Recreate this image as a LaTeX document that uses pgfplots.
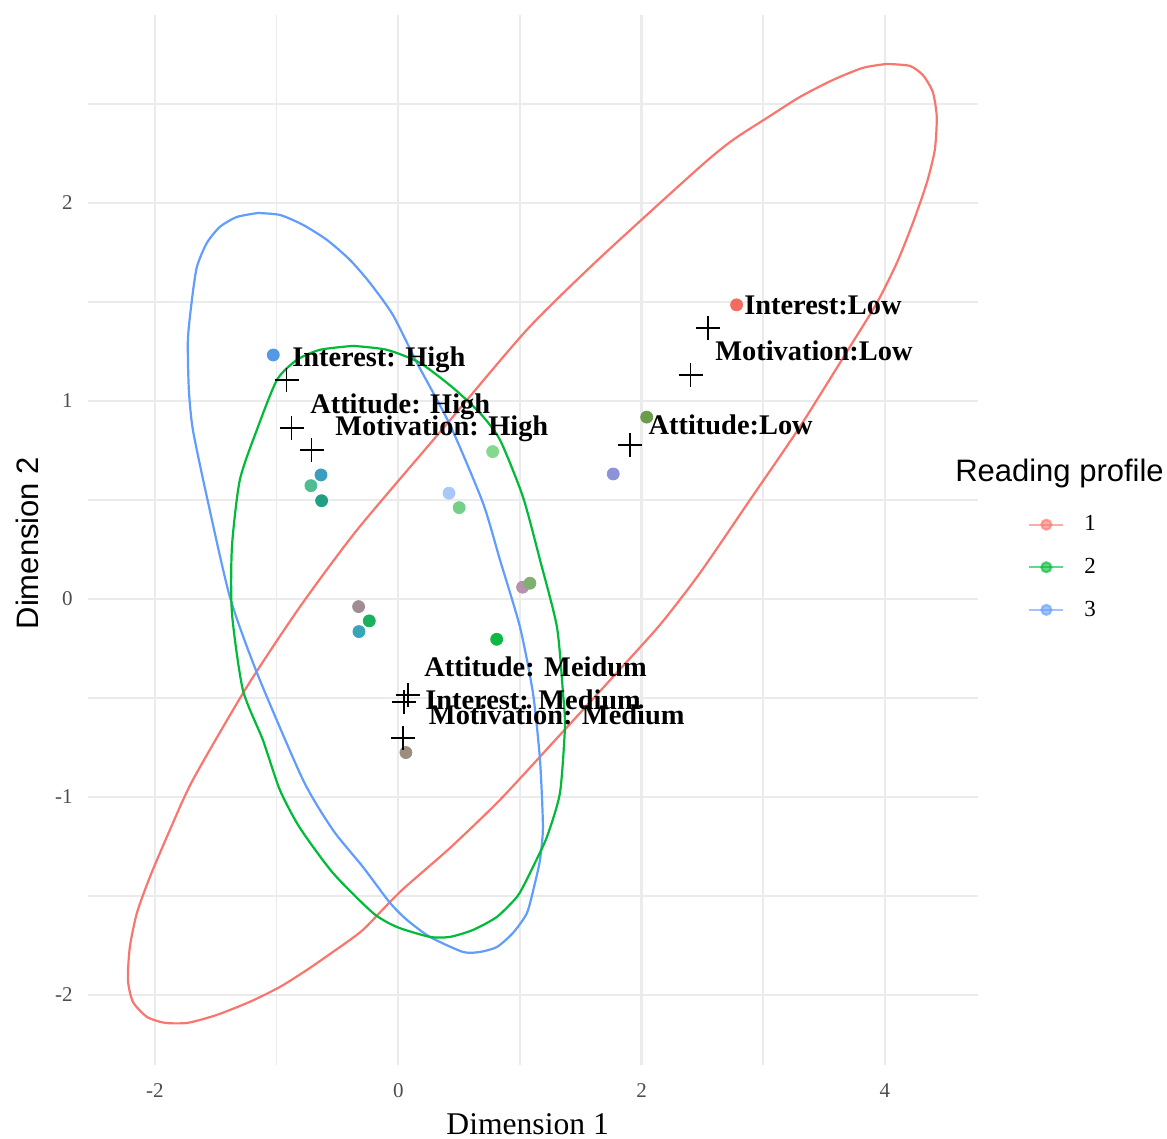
\documentclass[border=0pt]{standalone}
\usepackage{fontspec}
\setmainfont{Liberation Serif}
\setsansfont{Liberation Sans}
\usepackage{pgfplots}
\pgfplotsset{compat=1.18}

% profile colours
\definecolor{pr1}{HTML}{F8766D}
\definecolor{pr2}{HTML}{00BA38}
\definecolor{pr3}{HTML}{619CFF}
\definecolor{gridgray}{HTML}{EBEBEB}
\definecolor{ticktext}{HTML}{4D4D4D}
% individual respondents
\definecolor{p1}{HTML}{5499E6}
\definecolor{p2}{HTML}{F36B5F}
\definecolor{p3}{HTML}{6A9C4C}
\definecolor{p4}{HTML}{8C93D9}
\definecolor{p5}{HTML}{3A9EC0}
\definecolor{p6}{HTML}{4FBC92}
\definecolor{p7}{HTML}{229E84}
\definecolor{p8}{HTML}{84D98C}
\definecolor{p9}{HTML}{A8C8FA}
\definecolor{p10}{HTML}{74D087}
\definecolor{p11}{HTML}{B592B0}
\definecolor{p12}{HTML}{80B070}
\definecolor{p13}{HTML}{A28C94}
\definecolor{p14}{HTML}{1AB05C}
\definecolor{p15}{HTML}{36A6B8}
\definecolor{p16}{HTML}{0DB844}
\definecolor{p17}{HTML}{9B8E7E}

\pgfplotsset{
  ell/.style={line width=1.1pt, mark=none, smooth, tension=0.4, forget plot},
  pt/.style={only marks, mark=*, mark size=3pt, color=#1, forget plot},
  cat/.style={only marks, mark=+, mark size=6pt, black, line width=0.8pt, forget plot},
}
\tikzset{lbl/.style={anchor=base west, inner sep=0pt, font=\fontsize{14.2}{16}\selectfont\bfseries}}

\begin{document}
\begin{tikzpicture}
\begin{axis}[
  at={(0,0)}, anchor=south west,
  scale only axis, width=445pt, height=525pt,
  xmin=-2.550, xmax=4.765, ymin=-2.354, ymax=2.949,
  axis line style={draw=none},
  major tick length=0pt, minor tick length=0pt,
  xtick={-2,0,2,4}, xticklabels={-2,0,2,4},
  ytick={-2,-1,0,1,2}, yticklabels={-2,-1,0,1,2},
  minor xtick={-1,1,3}, minor ytick={-1.5,-0.5,0.5,1.5,2.5},
  grid=both,
  major grid style={gridgray, line width=1.1pt},
  minor grid style={gridgray, line width=0.8pt},
  ticklabel style={font=\fontsize{10.5}{12}\selectfont, text=ticktext, inner sep=0pt},
  xticklabel style={anchor=north, yshift=-9pt},
  yticklabel style={anchor=east, xshift=-7.5pt},
  xlabel={Dimension 1}, ylabel={Dimension 2},
  xlabel style={at={(axis description cs:0.494,-0.0562)}, anchor=center, font=\fontsize{15.8}{18}\selectfont},
  ylabel style={at={(axis description cs:-0.0685,0.497)}, anchor=center, font=\sffamily\fontsize{15.5}{18}\selectfont},
  clip=false,
  legend cell align=left,
  legend style={at={(axis description cs:1.056,0.474)}, anchor=west,
    draw=none, fill=none, inner sep=0pt, row sep=12.2pt,
    font=\fontsize{11.5}{12}\selectfont,
    nodes={inner sep=0pt},
    /tikz/every odd column/.append style={column sep=10pt}},
  legend image code/.code={
    \draw[mark repeat=2, mark phase=2] plot coordinates {(0pt,0pt) (8.5pt,0pt) (17pt,0pt)};
  },
]

% confidence ellipses of the three reading profiles
\addplot[ell, pr1] coordinates {
 (4.015,2.702) (4.204,2.692) (4.311,2.646) (4.393,2.561) (4.426,2.434) (4.410,2.268)
 (4.344,2.101) (4.230,1.899) (4.098,1.697) (3.934,1.495) (3.712,1.273) (3.301,0.869)
 (2.891,0.500) (2.480,0.131) (2.151,-0.131) (1.765,-0.394) (1.329,-0.687) (0.836,-1.015)
 (0.425,-1.258) (0.014,-1.480) (-0.291,-1.672) (-0.537,-1.783) (-0.751,-1.874) (-0.973,-1.960)
 (-1.220,-2.035) (-1.491,-2.101) (-1.729,-2.141) (-1.918,-2.141) (-2.066,-2.111) (-2.181,-2.035)
 (-2.222,-1.924) (-2.206,-1.758) (-2.148,-1.586) (-2.041,-1.404) (-1.877,-1.167) (-1.688,-0.914)
 (-1.244,-0.444) (-0.808,-0.040) (-0.339,0.348) (0.359,0.854) (1.057,1.359) (1.658,1.722)
 (2.480,2.182) (2.751,2.318) (3.030,2.429) (3.301,2.535) (3.573,2.621) (3.819,2.682) (4.015,2.702)
};
\addplot[ell, pr3] coordinates {
 (-1.153,1.949) (-0.972,1.939) (-0.783,1.889) (-0.586,1.813) (-0.397,1.712) (-0.233,1.596)
 (-0.044,1.434) (0.154,1.192) (0.425,0.879) (0.696,0.485) (0.836,0.197) (1.000,-0.141)
 (1.107,-0.475) (1.165,-0.813) (1.189,-1.152) (1.165,-1.318) (1.124,-1.434) (1.058,-1.586)
 (0.943,-1.687) (0.811,-1.758) (0.671,-1.783) (0.531,-1.783) (0.260,-1.707) (0.071,-1.621)
 (-0.068,-1.535) (-0.290,-1.354) (-0.537,-1.167) (-0.783,-0.914) (-1.161,-0.374) (-1.384,0.010)
 (-1.573,0.515) (-1.688,0.854) (-1.721,1.056) (-1.729,1.308) (-1.696,1.510) (-1.655,1.677)
 (-1.573,1.798) (-1.466,1.879) (-1.326,1.929) (-1.153,1.949)
};
\addplot[ell, pr2] coordinates {
 (-0.372,1.278) (-0.093,1.258) (0.178,1.192) (0.450,1.066) (0.671,0.939) (0.836,0.803)
 (1.025,0.515) (1.165,0.197) (1.304,-0.141) (1.354,-0.475) (1.370,-0.646) (1.329,-0.980)
 (1.222,-1.202) (1.107,-1.354) (1.050,-1.425) (0.976,-1.505) (0.811,-1.606) (0.614,-1.672) (0.425,-1.707)
 (0.260,-1.707) (-0.011,-1.657) (-0.208,-1.586) (-0.537,-1.384) (-0.808,-1.157) (-0.973,-0.965)
 (-1.113,-0.712) (-1.277,-0.460) (-1.367,-0.071) (-1.367,0.263) (-1.302,0.601) (-1.162,0.854)
 (-0.997,1.106) (-0.833,1.207) (-0.644,1.258) (-0.372,1.278)
};

% respondents
\addplot[pt=p1] coordinates {(-1.027,1.232)};
\addplot[pt=p2] coordinates {(2.781,1.485)};
\addplot[pt=p3] coordinates {(2.042,0.918)};
\addplot[pt=p4] coordinates {(1.767,0.631)};
\addplot[pt=p5] coordinates {(-0.635,0.626)};
\addplot[pt=p6] coordinates {(-0.718,0.572)};
\addplot[pt=p7] coordinates {(-0.630,0.496)};
\addplot[pt=p8] coordinates {(0.776,0.744)};
\addplot[pt=p9] coordinates {(0.417,0.534)};
\addplot[pt=p10] coordinates {(0.501,0.461)};
\addplot[pt=p11] coordinates {(1.022,0.059)};
\addplot[pt=p12] coordinates {(1.082,0.079)};
\addplot[pt=p13] coordinates {(-0.326,-0.039)};
\addplot[pt=p14] coordinates {(-0.238,-0.111)};
\addplot[pt=p15] coordinates {(-0.323,-0.165)};
\addplot[pt=p16] coordinates {(0.809,-0.204)};
\addplot[pt=p17] coordinates {(0.063,-0.776)};

% category points
\addplot[cat] coordinates {
 (-0.917,1.106) (-0.876,0.862) (-0.712,0.753)
 (2.548,1.367) (2.403,1.131) (1.904,0.778)
 (0.082,-0.485) (0.047,-0.520) (0.041,-0.704)
};

\node[lbl] at (axis cs:-0.874,1.174) {Interest: High};
\node[lbl] at (axis cs:-0.726,0.938) {Attitude: High};
\node[lbl] at (axis cs:-0.521,0.823) {Motivation: High};
\node[lbl] at (axis cs:2.841,1.434) {Interest:Low};
\node[lbl] at (axis cs:2.603,1.202) {Motivation:Low};
\node[lbl] at (axis cs:2.055,0.828) {Attitude:Low};
\node[lbl] at (axis cs:0.211,-0.392) {Attitude: Meidum};
\node[lbl] at (axis cs:0.219,-0.561) {Interest: Medium};
\node[lbl] at (axis cs:0.249,-0.636) {Motivation: Medium};

% legend
\addlegendimage{pr1, line width=1.1pt, opacity=0.6, mark=*, mark size=2.5pt}
\addlegendentry{1}
\addlegendimage{pr2, line width=1.1pt, opacity=0.6, mark=*, mark size=2.5pt}
\addlegendentry{2}
\addlegendimage{pr3, line width=1.1pt, opacity=0.6, mark=*, mark size=2.5pt}
\addlegendentry{3}

\node[anchor=west, inner sep=0pt, font=\sffamily\fontsize{15.5}{18}\selectfont]
  at (axis description cs:0.974,0.563) {Reading profile};
\end{axis}
\pgfresetboundingbox
\path[use as bounding box] (-44pt,-37pt) rectangle (539.5pt,532.5pt);
\end{tikzpicture}
\end{document}
